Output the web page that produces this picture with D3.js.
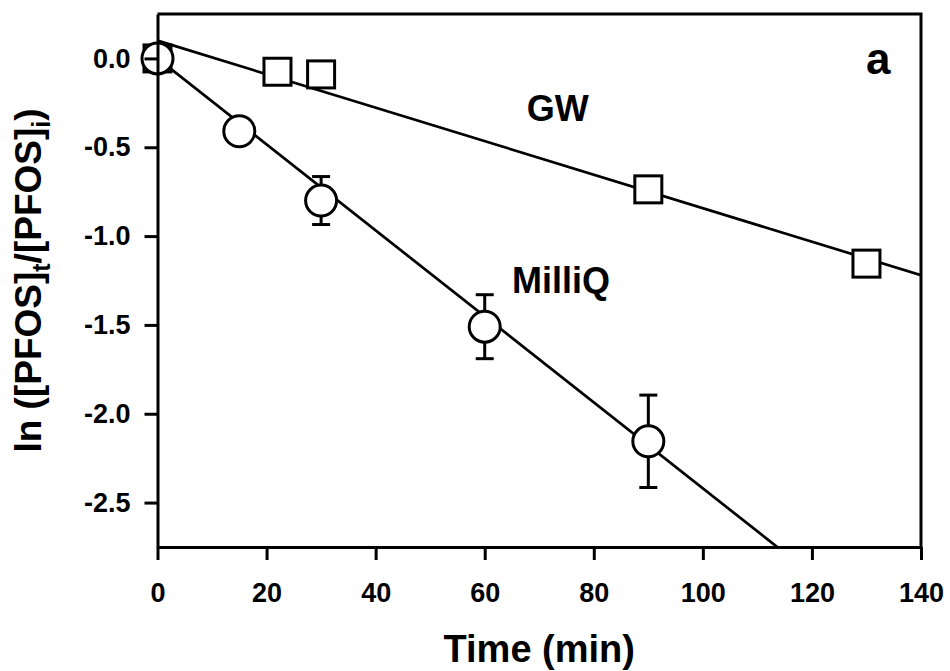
<!DOCTYPE html>
<head>
  <meta charset="utf-8">
  <title>PFOS decay</title>
  <script src="https://d3js.org/d3.v7.min.js"></script>
  <style>
    body { margin:0; background:#fff; }
    svg { display:block; }
    text { font-family: "Liberation Sans", Arial, sans-serif; font-weight: bold; fill:#000; }
  </style>
</head>

<body>
  <svg width="950" height="671"></svg>
  <script>
    // MilliQ series (circles, with error bars)
    var timeMilliQ = [0, 15, 30, 60, 90];
    var lnMilliQ = [0, -0.41, -0.80, -1.51, -2.155];
    var errMilliQ = [0, 0, 0.135, 0.18, 0.26];

    // GW series (squares)
    var timeGW = [0, 22, 30, 90, 130];
    var lnGW = [0, -0.075, -0.09, -0.737, -1.155];

    // linear fits: [intercept, slope]
    var fitMilliQ = [0.0, -0.0242];
    var fitGW = [0.10, -0.00943];

    var xTicks = [0, 20, 40, 60, 80, 100, 120, 140];
    var yTicks = [0, -0.5, -1.0, -1.5, -2.0, -2.5];

    var plotL = 157.5, plotR = 921, plotT = 14, plotB = 547;

    var svg = d3.select('svg');

    var x = d3.scaleLinear().domain([0, 140]).range([plotL, plotR]);
    var y = d3.scaleLinear().domain([-2.75, 0.25]).range([plotB, plotT]);

    svg.append('clipPath').attr('id', 'plot')
      .append('rect')
      .attr('x', plotL).attr('y', plotT)
      .attr('width', plotR - plotL).attr('height', plotB - plotT);

    // fit lines
    var line = d3.line().x(d => x(d[0])).y(d => y(d[1]));
    [fitGW, fitMilliQ].forEach(f => {
      var pts = [0, 140].map(t => [t, f[0] + f[1] * t]);
      svg.append('path')
        .attr('d', line(pts))
        .attr('clip-path', 'url(#plot)')
        .attr('fill', 'none')
        .attr('stroke', '#000')
        .attr('stroke-width', 2.7);
    });

    // error bars
    var milliQ = timeMilliQ.map((t, i) => ({t: t, v: lnMilliQ[i], e: errMilliQ[i]}));
    var eb = svg.append('g')
      .attr('stroke', '#000')
      .attr('stroke-width', 3)
      .selectAll('g')
      .data(milliQ.filter(d => d.e > 0))
      .enter().append('g');
    eb.append('line')
      .attr('x1', d => x(d.t)).attr('x2', d => x(d.t))
      .attr('y1', d => y(d.v + d.e)).attr('y2', d => y(d.v - d.e));
    eb.append('line')
      .attr('x1', d => x(d.t) - 9).attr('x2', d => x(d.t) + 9)
      .attr('y1', d => y(d.v + d.e)).attr('y2', d => y(d.v + d.e));
    eb.append('line')
      .attr('x1', d => x(d.t) - 9).attr('x2', d => x(d.t) + 9)
      .attr('y1', d => y(d.v - d.e)).attr('y2', d => y(d.v - d.e));

    // GW squares
    var sq = 27;
    svg.append('g').selectAll('rect')
      .data(timeGW.map((t, i) => [t, lnGW[i]]))
      .enter().append('rect')
      .attr('x', d => x(d[0]) - sq / 2)
      .attr('y', d => y(d[1]) - sq / 2)
      .attr('width', sq).attr('height', sq)
      .attr('fill', '#fff')
      .attr('stroke', '#000')
      .attr('stroke-width', 3);

    // MilliQ circles
    svg.append('g').selectAll('circle')
      .data(milliQ)
      .enter().append('circle')
      .attr('cx', d => x(d.t))
      .attr('cy', d => y(d.v))
      .attr('r', 15.5)
      .attr('fill', '#fff')
      .attr('stroke', '#000')
      .attr('stroke-width', 3);

    // frame
    svg.append('path')
      .attr('d', 'M' + plotL + ',' + plotT + 'H' + plotR + 'V' + plotB)
      .attr('fill', 'none')
      .attr('stroke', '#000')
      .attr('stroke-width', 3);

    // axes
    var xAxis = svg.append('g')
      .attr('transform', 'translate(0,' + plotB + ')')
      .call(d3.axisBottom(x).tickValues(xTicks).tickSize(13).tickSizeOuter(0).tickPadding(23));
    var yAxis = svg.append('g')
      .attr('transform', 'translate(' + plotL + ',0)')
      .call(d3.axisLeft(y).tickValues(yTicks).tickSize(13).tickSizeOuter(0).tickPadding(14)
        .tickFormat(d => d.toFixed(1)));

    [xAxis, yAxis].forEach(a => {
      a.select('.domain').attr('stroke-width', 3);
      a.selectAll('.tick line').attr('stroke-width', 3);
      a.selectAll('.tick text')
        .style('font-size', '27px')
        .style('font-family', '"Liberation Sans", Arial, sans-serif')
        .style('font-weight', 'bold');
    });

    // axis titles
    svg.append('text')
      .attr('x', (plotL + plotR) / 2)
      .attr('y', 662)
      .attr('text-anchor', 'middle')
      .style('font-size', '38px')
      .text('Time (min)');

    var yt = svg.append('text')
      .attr('transform', 'translate(41,' + ((plotT + plotB) / 2) + ') rotate(-90)')
      .attr('text-anchor', 'middle')
      .style('font-size', '37px');
    yt.append('tspan').text('ln ([PFOS]');
    yt.append('tspan').text('t').attr('dy', 9).style('font-size', '25px');
    yt.append('tspan').text('/[PFOS]').attr('dy', -9);
    yt.append('tspan').text('i').attr('dy', 9).style('font-size', '25px');
    yt.append('tspan').text(')').attr('dy', -9);

    // annotations
    svg.append('text')
      .attr('x', x(67.7)).attr('y', y(-0.354))
      .style('font-size', '36px')
      .text('GW');
    svg.append('text')
      .attr('x', x(65)).attr('y', y(-1.32))
      .style('font-size', '36px')
      .text('MilliQ');
    svg.append('text')
      .attr('x', x(134.4)).attr('y', y(-0.09))
      .attr('text-anchor', 'end')
      .style('font-size', '44px')
      .text('a');
  </script>
</body>
